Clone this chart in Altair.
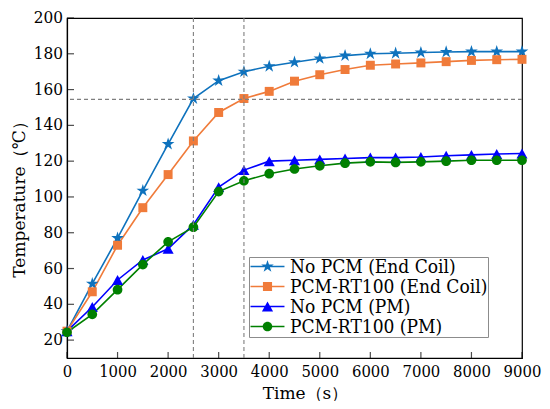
import math
import altair as alt
import pandas as pd

# ---------------- data ----------------
time_s = [0, 500, 1000, 1500, 2000, 2500, 3000, 3500, 4000, 4500,
          5000, 5500, 6000, 6500, 7000, 7500, 8000, 8500, 9000]
no_pcm_coil = [25, 51.5, 77, 103.5, 129.5, 155, 165, 170, 173, 175.3,
               177.4, 179, 180, 180.3, 180.7, 181, 181.2, 181.2, 181.2]
pcm_coil = [25, 47, 73, 94, 112.5, 131.3, 147.2, 155, 159, 164.7,
            168.3, 171.2, 173.6, 174.3, 174.9, 175.6, 176.3, 176.7, 176.9]
no_pcm_pm = [25, 38.5, 53.6, 64.8, 71, 84.5, 105.5, 115, 120, 120.5,
             121, 121.5, 122, 122, 122.3, 123, 123.5, 124, 124.3]
pcm_pm = [24.4, 34.4, 48.2, 62.2, 74.9, 83.1, 103, 109, 113, 115.6,
          117.4, 118.9, 119.6, 119.3, 119.6, 120, 120.5, 120.5, 120.5]

series_names = ["No PCM (End Coil)", "PCM-RT100 (End Coil)", "No PCM (PM)", "PCM-RT100 (PM)"]
series_colors = ["#0E72BD", "#F07B3A", "#0000FF", "#008000"]

x_ticks = [0, 1000, 2000, 3000, 4000, 5000, 6000, 7000, 8000, 9000]
y_ticks = [20, 40, 60, 80, 100, 120, 140, 160, 180, 200]
h_ref = [154.5]
v_ref = [2500, 3500]

# ---------------- tables ----------------
rows = []
for name, vals in zip(series_names, [no_pcm_coil, pcm_coil, no_pcm_pm, pcm_pm]):
    for t, v in zip(time_s, vals):
        rows.append({"time": t, "temp": v, "series": name})
df = pd.DataFrame(rows)
xt_df = pd.DataFrame({"t": x_ticks})
yt_df = pd.DataFrame({"v": y_ticks})
h_df = pd.DataFrame({"y": h_ref})
v_df = pd.DataFrame({"x": v_ref})

# ---------------- marker paths ----------------
def fmt(v):
    return f"{v:.3f}"

def star(R):
    r = R * 0.382
    pts = []
    for i in range(10):
        ang = -math.pi / 2 + i * math.pi / 5
        rad = R if i % 2 == 0 else r
        pts.append((rad * math.cos(ang), rad * math.sin(ang)))
    return "M" + "L".join(f"{fmt(x)},{fmt(y)}" for x, y in pts) + "Z"

def square(h):
    return f"M{fmt(-h)},{fmt(-h)}L{fmt(h)},{fmt(-h)}L{fmt(h)},{fmt(h)}L{fmt(-h)},{fmt(h)}Z"

def tri(w, h):
    return f"M0,{fmt(-h)}L{fmt(w)},{fmt(h)}L{fmt(-w)},{fmt(h)}Z"

def circ(r):
    return (f"M{fmt(r)},0A{fmt(r)},{fmt(r)} 0 1,1 {fmt(-r)},0"
            f"A{fmt(r)},{fmt(r)} 0 1,1 {fmt(r)},0Z")

def bar(L, t):
    return f"M{fmt(-L)},{fmt(-t)}L{fmt(L)},{fmt(-t)}L{fmt(L)},{fmt(t)}L{fmt(-L)},{fmt(t)}Z"

plot_shapes = [star(0.95), square(0.64), tri(0.79, 0.71), circ(0.69)]
seg = bar(2.83, 0.13)
leg_shapes = [seg + star(1.1), seg + square(0.76), seg + tri(0.93, 0.83), seg + circ(0.8)]

W, H = 455, 340
FONT_C = "DejaVu Serif Condensed, DejaVu Serif"
FONT_T = "DejaVu Serif"

xscale = alt.Scale(domain=[0, 9000], nice=False, zero=False)
yscale = alt.Scale(domain=[10, 200], nice=False, zero=False)

base = alt.Chart(df)

lines = base.mark_line(strokeWidth=1.6).encode(
    x=alt.X("time:Q", scale=xscale,
            axis=alt.Axis(values=x_ticks, format="d", title="Time（s）",
                          titleX=238, titleY=40, labelFont=FONT_C)),
    y=alt.Y("temp:Q", scale=yscale,
            axis=alt.Axis(values=y_ticks, labels=False, title="Temperature（℃）",
                          titleX=-43, titleY=177, titleAngle=270)),
    color=alt.Color("series:N", scale=alt.Scale(domain=series_names, range=series_colors), legend=None),
    detail="series:N",
)

points = base.mark_point(filled=True, size=196, opacity=1).encode(
    x=alt.X("time:Q", scale=xscale),
    y=alt.Y("temp:Q", scale=yscale),
    color=alt.Color("series:N", scale=alt.Scale(domain=series_names, range=series_colors), legend=None),
    shape=alt.Shape("series:N", scale=alt.Scale(domain=series_names, range=plot_shapes), legend=None),
)

legend_cfg = alt.Legend(
    title=None, orient="none", legendX=182, legendY=239,
    symbolSize=144, symbolOffset=9, labelOffset=13,
    rowPadding=0, padding=0, strokeColor="#8c8c8c", fillColor="white",
    labelLimit=400,
)

legend_layer = base.transform_filter(alt.datum.time < -1).transform_calculate(
    series2="datum.series"
).mark_point(filled=True, size=144, opacity=1).encode(
    x=alt.X("time:Q", scale=xscale),
    y=alt.Y("temp:Q", scale=yscale),
    color=alt.Color("series2:N", scale=alt.Scale(domain=series_names, range=series_colors), legend=legend_cfg),
    shape=alt.Shape("series2:N", scale=alt.Scale(domain=series_names, range=leg_shapes), legend=legend_cfg),
)

hline = alt.Chart(h_df).mark_rule(color="#7f7f7f", strokeWidth=1.1, strokeDash=[4, 3]).encode(
    y=alt.Y("y:Q", scale=yscale))
vline = alt.Chart(v_df).mark_rule(color="#7f7f7f", strokeWidth=1.1, strokeDash=[4, 3]).encode(
    x=alt.X("x:Q", scale=xscale))

xticks = alt.Chart(xt_df).mark_tick(orient="vertical", color="black", size=6, thickness=1.2).encode(
    x=alt.X("t:Q", scale=xscale), y=alt.value(H - 3))
yticks = alt.Chart(yt_df).mark_tick(orient="horizontal", color="black", size=7, thickness=1.2).encode(
    y=alt.Y("v:Q", scale=yscale), x=alt.value(3.5))
ylabels = alt.Chart(yt_df).mark_text(align="right", baseline="middle", dx=-4, font=FONT_C,
                                     fontSize=17, color="black").encode(
    y=alt.Y("v:Q", scale=yscale), x=alt.value(0), text=alt.Text("v:Q", format="d"))

chart = alt.layer(lines, points, legend_layer, hline, vline, xticks, yticks, ylabels).resolve_scale(
    shape="independent", color="independent"
).properties(
    width=W, height=H,
    autosize=alt.AutoSizeParams(type="none"),
    padding={"left": 59, "top": 10, "right": 20, "bottom": 43},
    background="white",
).configure(
    font=FONT_T
).configure_view(
    stroke="black", strokeWidth=1.2
).configure_axis(
    grid=False, tickSize=0, labelOverlap=False, labelFlush=False,
    labelFontSize=16.5, labelColor="black",
    titleFont=FONT_T, titleFontSize=17, titleFontWeight="normal", titleColor="black",
    titleBaseline="alphabetic", domainColor="black", domainWidth=1.2,
).configure_axisX(labelPadding=5).configure_legend(
    labelFont=FONT_C, labelFontSize=19, labelColor="black",
)

chart.save("out.html", embed_options={"renderer": "svg", "actions": False})
